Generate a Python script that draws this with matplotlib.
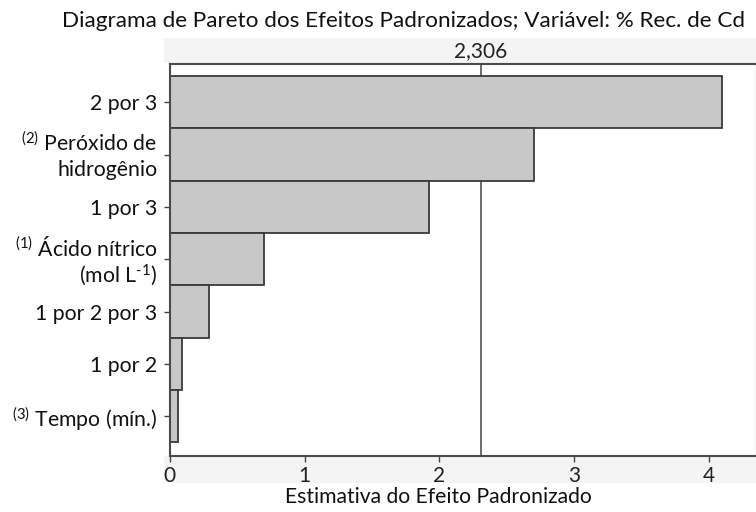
import matplotlib
matplotlib.use("Agg")
import matplotlib.pyplot as plt
from matplotlib.patches import Rectangle
from matplotlib.transforms import blended_transform_factory, offset_copy

plt.rcParams['font.family'] = ['Lato', 'DejaVu Sans']
plt.rcParams['mathtext.fontset'] = 'custom'
plt.rcParams['mathtext.rm'] = 'Lato'
plt.rcParams['mathtext.it'] = 'Lato:italic'
plt.rcParams['mathtext.bf'] = 'Lato:bold'

# Effects, ordered from largest to smallest
effect_labels = [
    "2 por 3",
    "$\\mathregular{^{(2)}}$ Peróxido de\nhidrogênio",
    "1 por 3",
    "$\\mathregular{^{(1)}}$ Ácido nítrico\n(mol L$\\mathregular{^{\\text{-}1}}$)",
    "1 por 2 por 3",
    "1 por 2",
    "$\\mathregular{^{(3)}}$ Tempo (mín.)",
]
effect_values = [4.096, 2.698, 1.924, 0.699, 0.294, 0.091, 0.064]
critical_value = 2.306
critical_label = "2,306"
x_ticks = [0, 1, 2, 3, 4]

W, H = 756, 512
fig = plt.figure(figsize=(W / 100, H / 100), dpi=100)
fig.patch.set_facecolor("white")

# light strips behind the top and bottom tick rows
for (y0, y1) in [(38, 63), (456, 483)]:
    fig.patches.append(Rectangle((164 / W, 1 - y1 / H), (W - 164) / W, (y1 - y0) / H,
                                 transform=fig.transFigure, facecolor="#f4f4f4",
                                 edgecolor="none", zorder=-5))

ax = fig.add_axes([169.7 / W, 1 - 456 / H, (755.5 - 169.7) / W, (456 - 64) / H])
ax.set_facecolor("white")

pos = list(range(len(effect_values)))
ax.barh(pos, effect_values, height=1.0, color="#c8c8c8", edgecolor="#3a3a3a",
        linewidth=1.3, zorder=2)
ax.axvline(critical_value, color="#555555", linewidth=1.2, zorder=1)

ax.set_xlim(0, 4.343)
ax.set_ylim(6.76, -0.73)
ax.set_yticks(pos)
ax.set_yticklabels([""] * len(pos))
ax.set_xticks(x_ticks)
ax.set_xticklabels([str(t) for t in x_ticks], fontsize=15, color="#222222")
ax.tick_params(axis="y", length=4, width=1.0, color="#444444")
ax.tick_params(axis="x", length=4, width=1.0, color="#444444", pad=3)

# category labels, one text per line so the line spacing stays even
label_tr = offset_copy(blended_transform_factory(ax.transAxes, ax.transData),
                       fig=fig, x=-12.5, y=0, units="dots")
line_gap = 27.0
for p, lab in zip(pos, effect_labels):
    lines = lab.split("\n")
    n = len(lines)
    for i, line in enumerate(lines):
        dy = (i - (n - 1) / 2) * line_gap
        tr = offset_copy(label_tr, fig=fig, x=0, y=-dy, units="dots")
        ax.text(0, p, line, transform=tr, ha="right", va="center_baseline",
                fontsize=15.3, color="#111111")

for side in ["left", "bottom", "top"]:
    ax.spines[side].set_color("#4a4a4a")
    ax.spines[side].set_linewidth(1.5)
ax.spines["right"].set_color("#cccccc")
ax.spines["right"].set_linewidth(1.0)

# critical value on the top axis
top = ax.secondary_xaxis("top")
top.set_xticks([critical_value])
top.set_xticklabels([critical_label], fontsize=15, color="#222222")
top.tick_params(length=0, pad=2)
top.spines["top"].set_visible(False)

fig.text(404 / W, 1 - 21 / H,
         "Diagrama de Pareto dos Efeitos Padronizados; Variável: % Rec. de Cd",
         ha="center", va="center", fontsize=16.2, color="#111111")
fig.text(438 / W, 1 - 497 / H, "Estimativa do Efeito Padronizado",
         ha="center", va="center", fontsize=15.2, color="#111111")

fig.savefig("out.png", dpi=100)
